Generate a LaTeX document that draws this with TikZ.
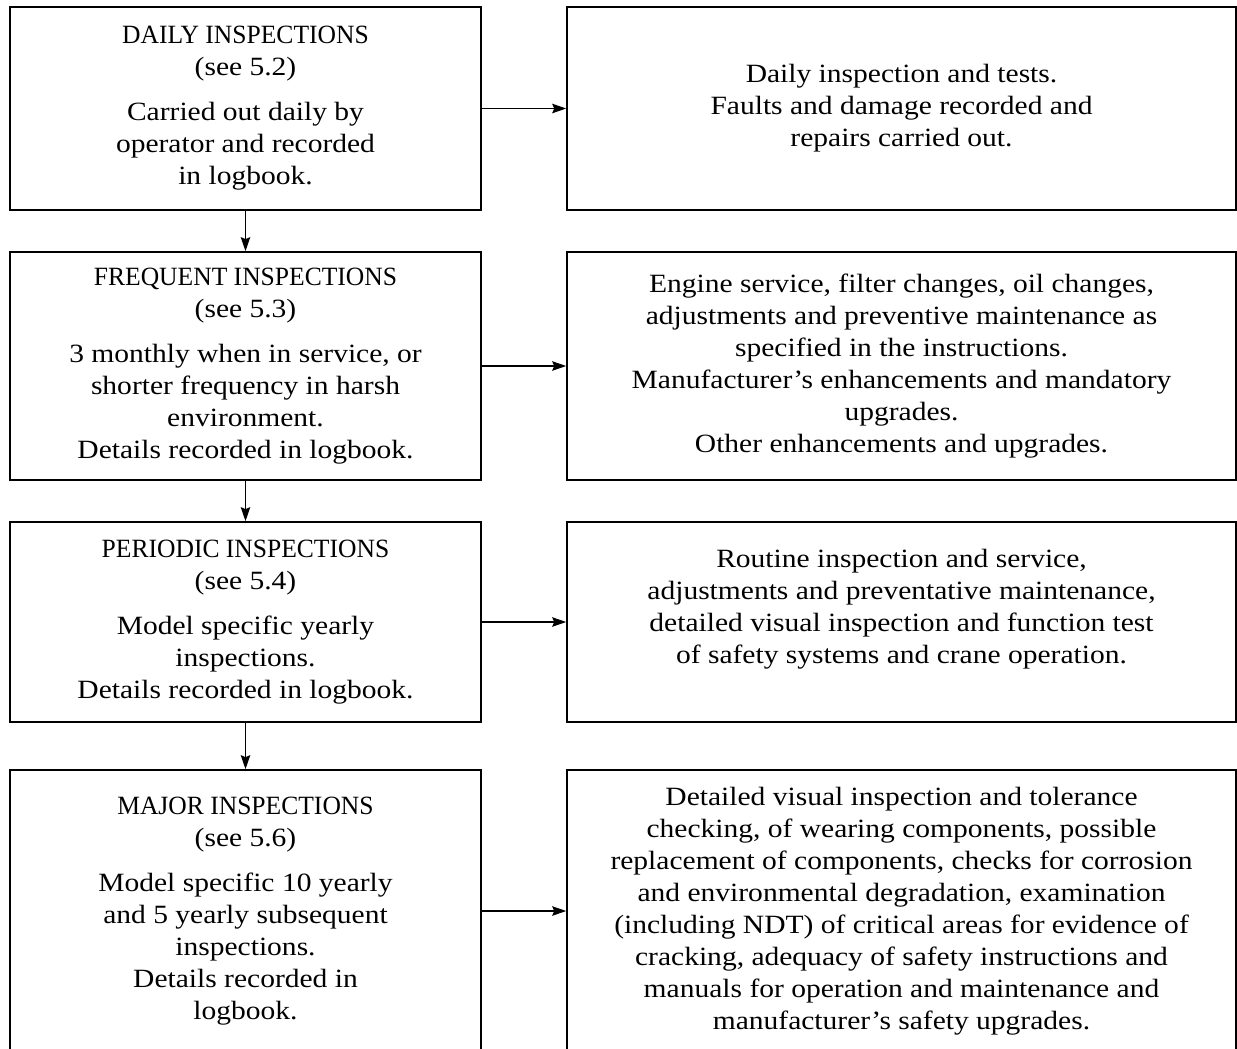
\documentclass[tikz,border=0pt]{standalone}
\usepackage{fontspec}
\setmainfont{Liberation Serif}[FakeStretch=1.12]
\newfontfamily\titlefont{Liberation Serif}[FakeStretch=0.97]
\usetikzlibrary{arrows.meta, positioning}

\newcommand{\stagetitle}[1]{{\titlefont #1}}

\begin{document}
\begin{tikzpicture}[
        x=0.02cm, y=-0.02cm,
        stage/.style={rectangle, draw=black, line width=1pt, minimum width=9.42cm, align=center, inner sep=0pt, font=\fontsize{15}{18.2}\selectfont},
        action/.style={rectangle, draw=black, line width=1pt, minimum width=13.38cm, align=center, inner sep=0pt, font=\fontsize{15}{18.2}\selectfont},
        plain/.style={align=center, inner sep=0pt, font=\fontsize{15}{18.2}\selectfont},
        arrow/.style={-{Stealth[length=0.28cm, width=0.19cm, inset=0.04cm]}, line width=0.6pt}
    ]
        \useasboundingbox (0,0) rectangle (1237,1048);
        \clip (0,0) rectangle (1237,1048);

        % Daily
        \node[stage, minimum height=4.06cm] (daily) at (245.5,108.5) {\stagetitle{DAILY INSPECTIONS}\\(see 5.2)\\[0.26cm]Carried out daily by\\operator and recorded\\in logbook.};
        \node[action, minimum height=4.06cm] (dailyact) at (901.5,108.5) {Daily inspection and tests.\\Faults and damage recorded and\\repairs carried out.};

        % Frequent
        \node[stage, minimum height=4.56cm] (frequent) at (245.5,366) {\stagetitle{FREQUENT INSPECTIONS}\\(see 5.3)\\[0.26cm]3 monthly when in service, or\\shorter frequency in harsh\\environment.\\Details recorded in logbook.};
        \node[action, minimum height=4.56cm] (frequentact) at (901.5,366) {Engine service, filter changes, oil changes,\\adjustments and preventive maintenance as\\specified in the instructions.\\Manufacturer’s enhancements and mandatory\\upgrades.\\Other enhancements and upgrades.};

        % Periodic
        \node[stage, minimum height=4cm] (periodic) at (245.5,622) {\stagetitle{PERIODIC INSPECTIONS}\\(see 5.4)\\[0.26cm]Model specific yearly\\inspections.\\Details recorded in logbook.};
        \node[action, minimum height=4cm] (periodicact) at (901.5,622) {};
        \node[plain] (periodictxt) at (901.5,609) {Routine inspection and service,\\adjustments and preventative maintenance,\\detailed visual inspection and function test\\of safety systems and crane operation.};

        % Major
        \node[stage, minimum height=5.64cm] (major) at (245.5,911) {\stagetitle{MAJOR INSPECTIONS}\\(see 5.6)\\[0.26cm]Model specific 10 yearly\\and 5 yearly subsequent\\inspections.\\Details recorded in\\logbook.};
        \node[action, minimum height=5.64cm] (majoract) at (901.5,911) {Detailed visual inspection and tolerance\\checking, of wearing components, possible\\replacement of components, checks for corrosion\\and environmental degradation, examination\\(including NDT) of critical areas for evidence of\\cracking, adequacy of safety instructions and\\manuals for operation and maintenance and\\manufacturer’s safety upgrades.};

        % Arrows
        \draw[arrow] (daily) -- (dailyact);
        \draw[arrow] (frequent) -- (frequentact);
        \draw[arrow] (periodic) -- (periodicact);
        \draw[arrow] (major) -- (majoract);
        \draw[arrow] (daily) -- (frequent);
        \draw[arrow] (frequent) -- (periodic);
        \draw[arrow] (periodic) -- (major);
    \end{tikzpicture}
\end{document}
